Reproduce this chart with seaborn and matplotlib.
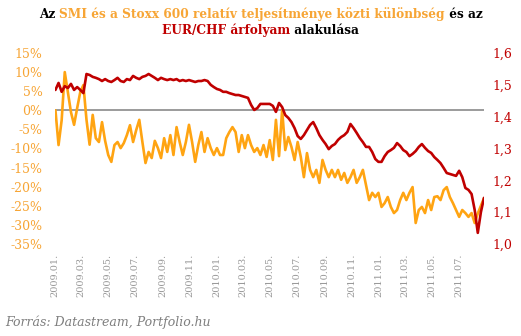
import matplotlib
matplotlib.use("Agg")
import matplotlib.pyplot as plt
import matplotlib.dates as mdates
from matplotlib.ticker import FixedLocator, FuncFormatter
import seaborn as sns
import pandas as pd

# Weekly observations starting on the first trading Friday of 2009
first_week = "2009-01-02"

# Relative performance of SMI vs Stoxx 600 (%)
smi_vs_stoxx = [
    0.0, -9.1, -2.6, 10.0, 4.8, -0.5, -3.8, 0.6, 4.8, 6.6,
    -2.5, -9.0, -1.2, -7.3, -8.3, -3.1, -8.0, -11.7, -13.5, -9.1,
    -8.3, -9.9, -8.6, -6.5, -3.9, -8.3, -5.2, -2.5, -8.3, -13.8,
    -10.9, -12.5, -8.0, -9.9, -12.5, -7.3, -10.9, -6.5, -11.7, -4.4,
    -8.3, -11.7, -8.3, -3.8, -8.3, -13.5, -9.1, -5.7, -10.9, -7.3,
    -9.9, -11.7, -9.9, -11.7, -11.7, -7.3, -5.7, -4.4, -5.7, -10.9,
    -6.5, -9.9, -6.5, -9.1, -10.9, -9.9, -11.7, -9.1, -12.2, -7.8,
    -13.0, -2.5, -12.0, 0.1, -10.4, -7.0, -9.6, -13.0, -8.3, -12.2,
    -17.5, -11.2, -15.6, -17.5, -15.6, -19.0, -13.0, -15.6, -17.5, -15.6,
    -17.5, -15.6, -18.2, -16.4, -19.0, -17.5, -15.6, -19.0, -17.5, -15.6,
    -19.5, -23.5, -21.6, -22.7, -21.6, -25.3, -24.3, -22.7, -25.3, -26.9,
    -26.1, -23.5, -21.6, -23.5, -21.6, -20.1, -29.5, -26.1, -25.3, -26.9,
    -23.5, -26.1, -22.7, -22.5, -23.5, -20.9, -20.1, -22.7, -24.3, -26.1,
    -27.9, -26.1, -26.9, -27.9, -26.9, -29.5, -27.0, -25.0, -23.0,
]

# EUR/CHF exchange rate
eur_chf = [
    1.484, 1.506, 1.478, 1.496, 1.490, 1.503, 1.484, 1.493, 1.484, 1.474,
    1.534, 1.531, 1.525, 1.522, 1.518, 1.512, 1.518, 1.512, 1.509, 1.515,
    1.522, 1.512, 1.509, 1.518, 1.515, 1.528, 1.522, 1.518, 1.525, 1.528,
    1.534, 1.528, 1.522, 1.515, 1.522, 1.518, 1.515, 1.518, 1.515, 1.518,
    1.512, 1.515, 1.512, 1.515, 1.512, 1.509, 1.512, 1.512, 1.515, 1.512,
    1.500, 1.493, 1.487, 1.484, 1.478, 1.478, 1.474, 1.471, 1.468, 1.468,
    1.465, 1.462, 1.459, 1.437, 1.421, 1.427, 1.440, 1.440, 1.440, 1.440,
    1.434, 1.415, 1.443, 1.430, 1.405, 1.396, 1.383, 1.364, 1.339, 1.330,
    1.342, 1.358, 1.374, 1.383, 1.364, 1.342, 1.327, 1.314, 1.298, 1.308,
    1.314, 1.327, 1.336, 1.342, 1.352, 1.377, 1.364, 1.349, 1.333, 1.320,
    1.305, 1.305, 1.289, 1.267, 1.258, 1.258, 1.276, 1.289, 1.295, 1.302,
    1.317, 1.308, 1.295, 1.289, 1.276, 1.283, 1.292, 1.305, 1.314, 1.302,
    1.292, 1.286, 1.273, 1.264, 1.254, 1.239, 1.223, 1.220, 1.217, 1.214,
    1.230, 1.210, 1.176, 1.170, 1.157, 1.107, 1.035, 1.100, 1.145,
]

left_ticks = [15, 10, 5, 0, -5, -10, -15, -20, -25, -30, -35]
right_ticks = [1.0, 1.1, 1.2, 1.3, 1.4, 1.5, 1.6]
month_ticks = pd.date_range("2009-01-01", "2011-07-01", freq="2MS")

ORANGE = "#FFA412"
ORANGE_TXT = "#F7A535"
RED = "#C00000"
GREY = "#808080"

sns.set_style("white")
plt.rcParams["font.family"] = ["DejaVu Serif"]

dates = pd.date_range(first_week, periods=len(smi_vs_stoxx), freq="7D")
df = pd.DataFrame({"date": dates, "rel": smi_vs_stoxx, "fx": eur_chf})

fig = plt.figure(figsize=(5.21, 3.36), dpi=100)
ax = fig.add_axes([55 / 521, 1 - 244 / 336, 429 / 521, 191 / 336])

ax.axhline(0, color=GREY, lw=1.1, zorder=1)
sns.lineplot(data=df, x="date", y="rel", ax=ax, color=ORANGE, lw=1.9, zorder=2)
ax.set_ylim(-35, 15)
ax.yaxis.set_major_locator(FixedLocator(left_ticks))
ax.yaxis.set_major_formatter(FuncFormatter(lambda v, p: f"{v:.0f}%".replace("−", "-")))
ax.tick_params(axis="y", colors=ORANGE_TXT, labelsize=9, length=0, pad=9)

ax2 = ax.twinx()
sns.lineplot(data=df, x="date", y="fx", ax=ax2, color=RED, lw=1.9, zorder=3)
ax2.set_ylim(1.0, 1.6)
ax2.yaxis.set_major_locator(FixedLocator(right_ticks))
ax2.yaxis.set_major_formatter(FuncFormatter(lambda v, p: f"{v:.1f}".replace(".", ",")))
ax2.tick_params(axis="y", colors=RED, labelsize=9, length=0, pad=6)

ax.set_xlim(dates[0] - pd.Timedelta(days=1), dates[-1])
ax.xaxis.set_major_locator(FixedLocator(mdates.date2num(month_ticks)))
ax.xaxis.set_major_formatter(mdates.DateFormatter("%Y.%m."))
ax.tick_params(axis="x", colors="#999999", labelsize=7, length=0, pad=7, labelrotation=90)

for a in (ax, ax2):
    a.set_xlabel("")
    a.set_ylabel("")
    for s in a.spines.values():
        s.set_visible(False)
    a.grid(False)
    a.set_facecolor("none")


def colored_line(parts, y, size):
    """Draw one centred title line made of differently coloured pieces."""
    renderer = fig.canvas.get_renderer()
    texts = []
    x = 0.0
    for s, c in parts:
        t = fig.text(x, y, s, color=c, fontsize=size, fontweight="bold",
                     ha="left", va="center", transform=None)
        bb = t.get_window_extent(renderer)
        texts.append((t, x))
        x += bb.width
    total = x
    start = (fig.bbox.width - total) / 2
    for t, off in texts:
        t.set_position((start + off, y))


H = fig.bbox.height
colored_line([("Az ", "black"),
              ("SMI és a Stoxx 600 relatív teljesítménye közti különbség", ORANGE_TXT),
              (" és az", "black")], H - 14, 8.7)
colored_line([("EUR/CHF árfolyam", RED), (" alakulása", "black")], H - 30, 8.7)

fig.text(5 / 521, 1 - 322 / 336, "Forrás: Datastream, Portfolio.hu", color="#7f7f7f",
         fontsize=9, style="italic", ha="left", va="center")

fig.savefig("out.png", dpi=100)
